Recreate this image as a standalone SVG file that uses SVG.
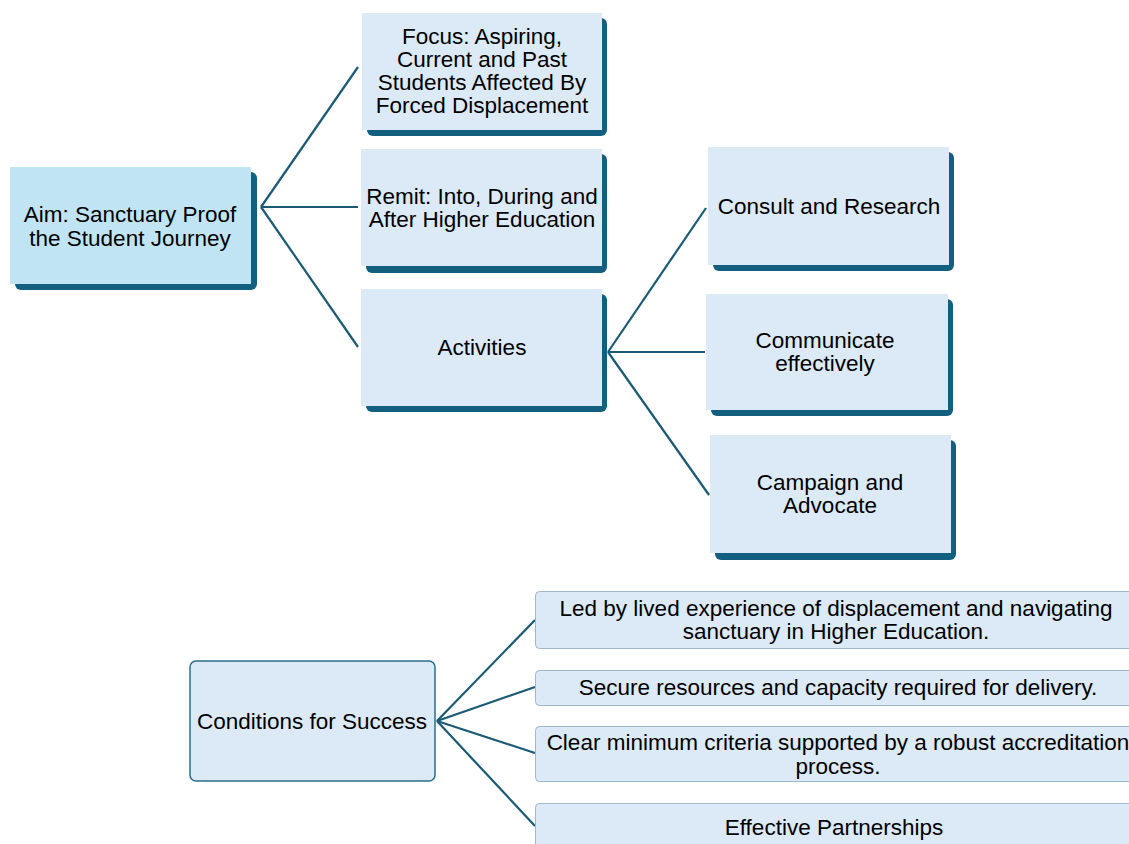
<svg xmlns="http://www.w3.org/2000/svg" width="1129" height="844" viewBox="0 0 1129 844">
<style>
.sh{fill:#135f80}
.bx{fill:#dce9f6}
.aim{fill:#c1e4f5}
.bd{fill:#dce9f6;stroke:#2a6d8c;stroke-width:1.5}
.lt{fill:#dce9f6;stroke:#9bb8cc;stroke-width:1}
text{font-family:"Liberation Sans",Arial,sans-serif;font-size:22.5px;fill:#000;text-anchor:middle}
.cn line{stroke:#1a5a75;stroke-width:2.2;fill:none}
</style>
<rect width="1129" height="844" fill="#ffffff"/>
<g class="cn" id="connectors">
<line x1="261" y1="207" x2="358" y2="67"/>
<line x1="261" y1="207" x2="358" y2="207"/>
<line x1="261" y1="207" x2="358" y2="347"/>
<line x1="608" y1="352" x2="706" y2="208"/>
<line x1="608" y1="352" x2="705" y2="352"/>
<line x1="608" y1="352" x2="709" y2="495"/>
<line x1="437" y1="721" x2="535" y2="620"/>
<line x1="437" y1="721" x2="535" y2="687"/>
<line x1="437" y1="721" x2="535" y2="753"/>
<line x1="437" y1="721" x2="535" y2="826"/>
</g>
<g id="aim">
<rect class="sh" x="15" y="172" width="242" height="118" rx="6"/>
<rect class="aim" x="10" y="167" width="241" height="117"/>
<text x="130" y="222">Aim: Sanctuary Proof</text>
<text x="130" y="246">the Student Journey</text>
</g>
<g id="focus">
<rect class="sh" x="367" y="18" width="240" height="118" rx="6"/>
<rect class="bx" x="362" y="13" width="240" height="117"/>
<text x="482" y="44">Focus: Aspiring,</text>
<text x="482" y="67">Current and Past</text>
<text x="482" y="90">Students Affected By</text>
<text x="482" y="113">Forced Displacement</text>
</g>
<g id="remit">
<rect class="sh" x="366" y="154" width="241" height="119" rx="6"/>
<rect class="bx" x="361" y="149" width="241" height="117"/>
<text x="482" y="204">Remit: Into, During and</text>
<text x="482" y="227">After Higher Education</text>
</g>
<g id="activities">
<rect class="sh" x="366" y="294" width="241" height="118" rx="6"/>
<rect class="bx" x="361" y="289" width="241" height="117"/>
<text x="482" y="355">Activities</text>
</g>
<g id="consult">
<rect class="sh" x="713" y="152" width="241" height="119" rx="6"/>
<rect class="bx" x="708" y="147" width="241" height="118"/>
<text x="829" y="214">Consult and Research</text>
</g>
<g id="communicate">
<rect class="sh" x="711" y="299" width="242" height="117" rx="6"/>
<rect class="bx" x="706" y="294" width="242" height="116"/>
<text x="825" y="348">Communicate</text>
<text x="825" y="371">effectively</text>
</g>
<g id="campaign">
<rect class="sh" x="715" y="440" width="241" height="120" rx="6"/>
<rect class="bx" x="710" y="435" width="241" height="118"/>
<text x="830" y="490">Campaign and</text>
<text x="830" y="513">Advocate</text>
</g>
<g id="conditions">
<rect class="bd" x="190" y="661" width="245" height="120" rx="6"/>
<text x="312" y="729">Conditions for Success</text>
</g>
<g id="led">
<rect class="lt" x="535.5" y="591.5" width="610" height="57" rx="4"/>
<text x="836" y="616">Led by lived experience of displacement and navigating</text>
<text x="836" y="639">sanctuary in Higher Education.</text>
</g>
<g id="secure">
<rect class="lt" x="535.5" y="670.5" width="610" height="35" rx="4"/>
<text x="838" y="695">Secure resources and capacity required for delivery.</text>
</g>
<g id="clear">
<rect class="lt" x="535.5" y="726.5" width="610" height="55" rx="4"/>
<text x="838" y="750">Clear minimum criteria supported by a robust accreditation</text>
<text x="838" y="774">process.</text>
</g>
<g id="effective">
<rect class="lt" x="535.5" y="803.5" width="610" height="55" rx="4"/>
<text x="834" y="835">Effective Partnerships</text>
</g>
</svg>
